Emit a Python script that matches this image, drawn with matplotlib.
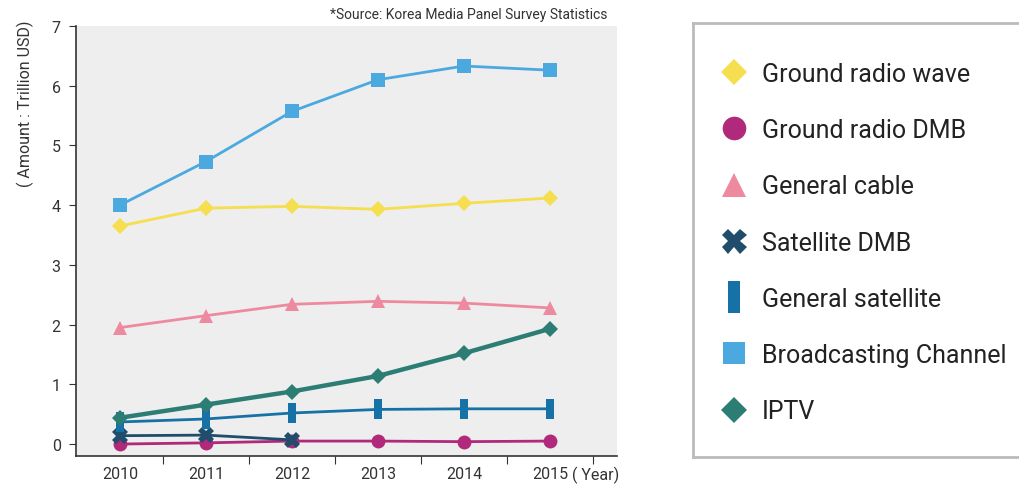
import matplotlib
matplotlib.use("Agg")
import matplotlib.pyplot as plt
from matplotlib.path import Path

plt.rcParams['font.family'] = ['Roboto', 'DejaVu Sans']

years = ["2010", "2011", "2012", "2013", "2014", "2015"]

ground_wave = [3.65, 3.95, 3.98, 3.93, 4.03, 4.12]
ground_dmb = [0.0, 0.02, 0.05, 0.05, 0.04, 0.05]
general_cable = [1.95, 2.15, 2.34, 2.39, 2.36, 2.28]
satellite_dmb = [0.14, 0.15, 0.07]
general_satellite = [0.37, 0.42, 0.52, 0.58, 0.59, 0.59]
broadcasting = [4.0, 4.73, 5.57, 6.1, 6.33, 6.26]
iptv = [0.44, 0.66, 0.88, 1.14, 1.52, 1.93]

labels = ["Ground radio wave", "Ground radio DMB", "General cable", "Satellite DMB",
          "General satellite", "Broadcasting Channel", "IPTV"]

bar_marker = Path([(-0.2, -0.5), (0.2, -0.5), (0.2, 0.5), (-0.2, 0.5), (-0.2, -0.5)],
                  [Path.MOVETO, Path.LINETO, Path.LINETO, Path.LINETO, Path.CLOSEPOLY])

# (values, colour, marker, markersize, linewidth, legend markersize)
series = [
    (ground_wave, "#f5de4f", "D", 8, 2, 13),
    (ground_dmb, "#b0297a", "o", 10, 2, 17),
    (general_cable, "#ee8a9f", "^", 10, 2, 17),
    (satellite_dmb, "#1f4d6b", "X", 11, 2, 18),
    (general_satellite, "#1671a7", bar_marker, 14, 2, 23),
    (broadcasting, "#4ca9e0", "s", 10, 2, 16),
    (iptv, "#2c7d74", "D", 8, 3.2, 13),
]

fig = plt.figure(figsize=(10.19, 4.85), dpi=100)
ax = fig.add_axes([76 / 1019, 28 / 485, 541 / 1019, 430 / 485])
ax.set_facecolor("#eeeeee")

x = list(range(len(years)))
handles = []
for (vals, col, mk, ms, lw, lms), lab in zip(series, labels):
    ax.plot(x[:len(vals)], vals, color=col, marker=mk, markersize=ms, linewidth=lw,
            markeredgewidth=0, label=lab)
    handles.append(plt.Line2D([], [], color=col, marker=mk, markersize=lms,
                              linestyle='none', markeredgewidth=0))

ax.set_xlim(-0.51, 5.78)
ax.set_ylim(-0.2, 7)
ax.set_yticks(range(8))
ax.set_xticks([i + 0.5 for i in x])
ax.set_xticklabels([])
ax.tick_params(axis='x', length=6, color="#333333")
ax.tick_params(axis='y', length=5, color="#333333", labelsize=11.5, labelcolor="#333333", pad=6)
for i, yr in enumerate(years):
    ax.text(i, -0.36, yr, ha='center', va='top', fontsize=11.5, color="#333333")
ax.text(5.26, -0.36, "( Year)", ha='left', va='top', fontsize=11.5, color="#333333")

for s in ["top", "right"]:
    ax.spines[s].set_visible(False)
for s in ["left", "bottom"]:
    ax.spines[s].set_color("#333333")
    ax.spines[s].set_linewidth(1.2)

ax.set_ylabel("( Amount : Trillion USD)", fontsize=11.5, color="#333333", loc='top')
ax.yaxis.set_label_coords(-0.078, 1.016)
fig.text(608 / 1019, 1 - 15 / 485, "*Source: Korea Media Panel Survey Statistics",
         ha='right', va='center', fontsize=10, color="#333333")

lax = fig.add_axes([693 / 1019, 27 / 485, 330 / 1019, 434 / 485])
lax.set_xticks([])
lax.set_yticks([])
for s in lax.spines.values():
    s.set_color("#bbbbbb")
    s.set_linewidth(2)
lax.legend(handles=handles, labels=labels, loc='upper left', bbox_to_anchor=(0.0, 0.962),
           frameon=False, fontsize=18, labelspacing=1.29, handlelength=1.5,
           handletextpad=0.35, labelcolor="#222222")

fig.savefig("out.png", dpi=100)
